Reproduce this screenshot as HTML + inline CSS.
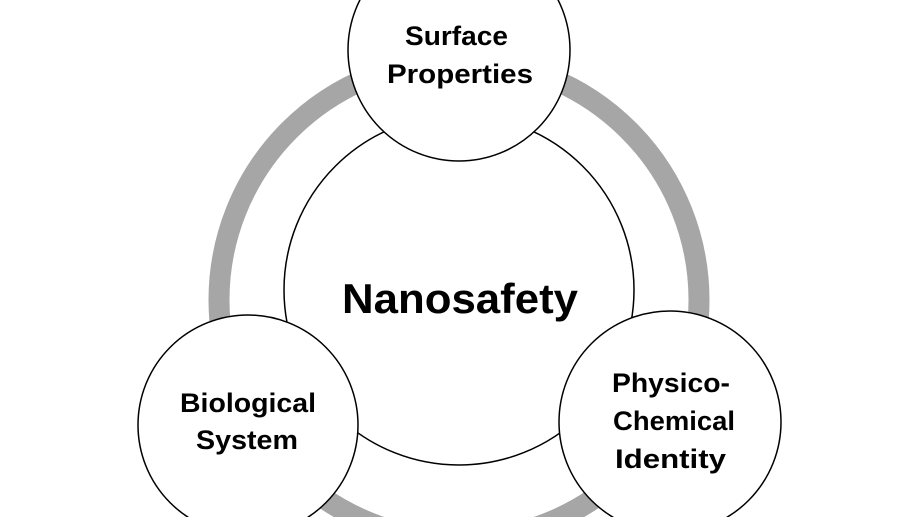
<!DOCTYPE html>
<html><head><meta charset="utf-8"><style>
html,body{margin:0;padding:0;background:#fff;}
svg{display:block;}
text{font-family:"Liberation Sans",sans-serif;font-weight:bold;fill:#000;}
</style></head><body>
<svg width="918" height="517" viewBox="0 0 918 517">
<circle cx="459" cy="300" r="240" fill="none" stroke="#a6a6a6" stroke-width="21"/>
<g>
<circle cx="459" cy="290" r="175" fill="#fff" stroke="#000" stroke-width="1.5"/>
<text x="342" y="313" font-size="42" textLength="236" lengthAdjust="spacingAndGlyphs">Nanosafety</text>
</g>
<g>
<circle cx="459" cy="50" r="111" fill="#fff" stroke="#000" stroke-width="1.5"/>
<text x="405" y="45" font-size="27" textLength="103" lengthAdjust="spacingAndGlyphs">Surface</text>
<text x="387" y="83" font-size="27" textLength="146" lengthAdjust="spacingAndGlyphs">Properties</text>
</g>
<g>
<circle cx="248" cy="425" r="110" fill="#fff" stroke="#000" stroke-width="1.5"/>
<text x="180" y="412" font-size="27" textLength="136" lengthAdjust="spacingAndGlyphs">Biological</text>
<text x="196" y="449" font-size="27" textLength="102" lengthAdjust="spacingAndGlyphs">System</text>
</g>
<g>
<circle cx="670" cy="422" r="111" fill="#fff" stroke="#000" stroke-width="1.5"/>
<text x="612" y="392" font-size="27" textLength="118" lengthAdjust="spacingAndGlyphs">Physico-</text>
<text x="613" y="430" font-size="27" textLength="122" lengthAdjust="spacingAndGlyphs">Chemical</text>
<text x="615" y="468" font-size="27" textLength="111" lengthAdjust="spacingAndGlyphs">Identity</text>
</g>
</svg>
</body></html>
